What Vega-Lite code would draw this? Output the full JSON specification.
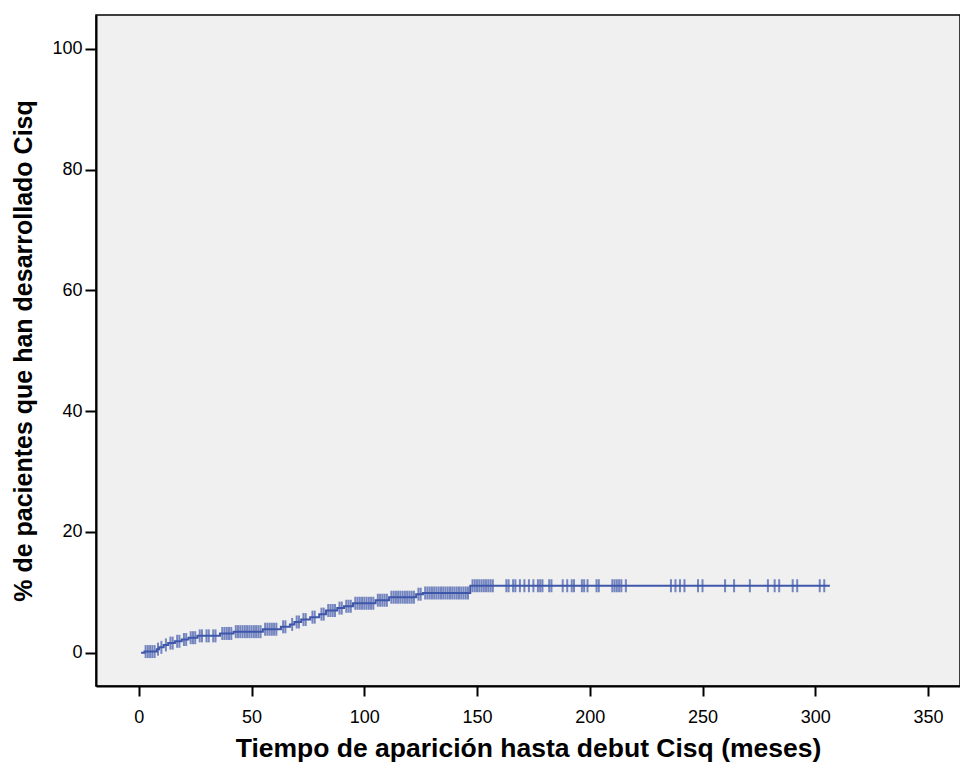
{
  "$schema": "https://vega.github.io/schema/vega-lite/v6.json",
  "width": 864,
  "height": 671,
  "autosize": {"type": "none"},
  "padding": {"left": 96, "top": 15, "right": 0, "bottom": 77},
  "background": "#ffffff",
  "config": {
    "view": {"fill": "#f0f0f0", "stroke": "#000000", "strokeWidth": 1.5},
    "font": "Liberation Sans",
    "axis": {
      "domainColor": "#000000", "domainWidth": 2, "tickColor": "#000000", "tickWidth": 2,
      "labelColor": "#000000", "titleColor": "#000000", "grid": false,
      "labelFont": "Liberation Sans", "titleFont": "Liberation Sans",
      "labelFontSize": 18, "titleFontSize": 26, "titleFontWeight": "bold"
    }
  },
  "data": {"values": [
    {"t": 1, "p": 0, "k": "e"}, {"t": 2.5, "p": 0.2, "k": "e"}, {"t": 3, "p": 0.2, "k": "c"}, {"t": 4, "p": 0.2, "k": "c"}, {"t": 5, "p": 0.2, "k": "c"}, {"t": 6, "p": 0.2, "k": "c"}, {"t": 7, "p": 0.2, "k": "c"},
    {"t": 8, "p": 0.6, "k": "e"}, {"t": 8.5, "p": 0.6, "k": "c"}, {"t": 9, "p": 0.9, "k": "e"}, {"t": 10, "p": 0.9, "k": "c"},
    {"t": 11, "p": 1.3, "k": "e"}, {"t": 12, "p": 1.3, "k": "c"}, {"t": 13, "p": 1.6, "k": "e"}, {"t": 14, "p": 1.6, "k": "c"}, {"t": 15, "p": 1.6, "k": "c"},
    {"t": 16, "p": 1.9, "k": "e"}, {"t": 17, "p": 1.9, "k": "c"}, {"t": 18, "p": 1.9, "k": "c"},
    {"t": 19, "p": 2.2, "k": "e"}, {"t": 20, "p": 2.2, "k": "c"}, {"t": 21, "p": 2.2, "k": "c"},
    {"t": 22, "p": 2.5, "k": "e"}, {"t": 23, "p": 2.5, "k": "c"}, {"t": 24, "p": 2.5, "k": "c"}, {"t": 25, "p": 2.5, "k": "c"},
    {"t": 26, "p": 2.8, "k": "e"}, {"t": 27, "p": 2.8, "k": "c"}, {"t": 28, "p": 2.8, "k": "c"}, {"t": 30, "p": 2.8, "k": "c"}, {"t": 31, "p": 2.8, "k": "c"}, {"t": 33, "p": 2.8, "k": "c"}, {"t": 34, "p": 2.8, "k": "c"},
    {"t": 36, "p": 3.2, "k": "e"}, {"t": 37, "p": 3.2, "k": "c"}, {"t": 38, "p": 3.2, "k": "c"}, {"t": 39, "p": 3.2, "k": "c"}, {"t": 40, "p": 3.2, "k": "c"}, {"t": 41, "p": 3.2, "k": "c"},
    {"t": 42, "p": 3.5, "k": "e"}, {"t": 43, "p": 3.5, "k": "c"}, {"t": 44, "p": 3.5, "k": "c"}, {"t": 45, "p": 3.5, "k": "c"}, {"t": 46, "p": 3.5, "k": "c"}, {"t": 47, "p": 3.5, "k": "c"}, {"t": 48, "p": 3.5, "k": "c"}, {"t": 49, "p": 3.5, "k": "c"}, {"t": 50, "p": 3.5, "k": "c"}, {"t": 51, "p": 3.5, "k": "c"}, {"t": 52, "p": 3.5, "k": "c"}, {"t": 53, "p": 3.5, "k": "c"}, {"t": 54, "p": 3.5, "k": "c"},
    {"t": 55, "p": 3.9, "k": "e"}, {"t": 56, "p": 3.9, "k": "c"}, {"t": 57, "p": 3.9, "k": "c"}, {"t": 58, "p": 3.9, "k": "c"}, {"t": 59, "p": 3.9, "k": "c"}, {"t": 60, "p": 3.9, "k": "c"}, {"t": 61, "p": 3.9, "k": "c"},
    {"t": 63, "p": 4.3, "k": "e"}, {"t": 64, "p": 4.3, "k": "c"}, {"t": 65, "p": 4.3, "k": "c"},
    {"t": 67, "p": 4.7, "k": "e"}, {"t": 68, "p": 4.7, "k": "c"},
    {"t": 69, "p": 5.1, "k": "e"}, {"t": 70, "p": 5.1, "k": "c"}, {"t": 71, "p": 5.1, "k": "c"},
    {"t": 72, "p": 5.5, "k": "e"}, {"t": 73, "p": 5.5, "k": "c"}, {"t": 74, "p": 5.5, "k": "c"},
    {"t": 76, "p": 5.9, "k": "e"}, {"t": 77, "p": 5.9, "k": "c"}, {"t": 78, "p": 5.9, "k": "c"},
    {"t": 80, "p": 6.4, "k": "e"}, {"t": 81, "p": 6.4, "k": "c"}, {"t": 82, "p": 6.4, "k": "c"},
    {"t": 83, "p": 7.0, "k": "e"}, {"t": 84, "p": 7.0, "k": "c"}, {"t": 85, "p": 7.0, "k": "c"}, {"t": 86, "p": 7.0, "k": "c"}, {"t": 87, "p": 7.0, "k": "c"},
    {"t": 88, "p": 7.4, "k": "e"}, {"t": 89, "p": 7.4, "k": "c"}, {"t": 90, "p": 7.4, "k": "c"},
    {"t": 91, "p": 7.7, "k": "e"}, {"t": 92, "p": 7.7, "k": "c"}, {"t": 93, "p": 7.7, "k": "c"}, {"t": 94, "p": 7.7, "k": "c"},
    {"t": 95, "p": 8.2, "k": "e"}, {"t": 96, "p": 8.2, "k": "c"}, {"t": 97, "p": 8.2, "k": "c"}, {"t": 98, "p": 8.2, "k": "c"}, {"t": 99, "p": 8.2, "k": "c"}, {"t": 100, "p": 8.2, "k": "c"}, {"t": 101, "p": 8.2, "k": "c"}, {"t": 102, "p": 8.2, "k": "c"}, {"t": 103, "p": 8.2, "k": "c"}, {"t": 104, "p": 8.2, "k": "c"},
    {"t": 105, "p": 8.7, "k": "e"}, {"t": 106, "p": 8.7, "k": "c"}, {"t": 107, "p": 8.7, "k": "c"}, {"t": 108, "p": 8.7, "k": "c"}, {"t": 109, "p": 8.7, "k": "c"}, {"t": 110, "p": 8.7, "k": "c"},
    {"t": 111, "p": 9.2, "k": "e"}, {"t": 112, "p": 9.2, "k": "c"}, {"t": 113, "p": 9.2, "k": "c"}, {"t": 114, "p": 9.2, "k": "c"}, {"t": 115, "p": 9.2, "k": "c"}, {"t": 116, "p": 9.2, "k": "c"}, {"t": 117, "p": 9.2, "k": "c"}, {"t": 118, "p": 9.2, "k": "c"}, {"t": 119, "p": 9.2, "k": "c"}, {"t": 120, "p": 9.2, "k": "c"}, {"t": 121, "p": 9.2, "k": "c"}, {"t": 122, "p": 9.2, "k": "c"},
    {"t": 123, "p": 9.7, "k": "e"}, {"t": 124, "p": 9.7, "k": "c"}, {"t": 125, "p": 9.7, "k": "c"},
    {"t": 126, "p": 9.9, "k": "e"}, {"t": 127, "p": 9.9, "k": "c"}, {"t": 128, "p": 9.9, "k": "c"}, {"t": 129, "p": 9.9, "k": "c"}, {"t": 130, "p": 9.9, "k": "c"}, {"t": 131, "p": 9.9, "k": "c"}, {"t": 132, "p": 9.9, "k": "c"}, {"t": 133, "p": 9.9, "k": "c"}, {"t": 134, "p": 9.9, "k": "c"}, {"t": 135, "p": 9.9, "k": "c"}, {"t": 136, "p": 9.9, "k": "c"}, {"t": 137, "p": 9.9, "k": "c"}, {"t": 138, "p": 9.9, "k": "c"}, {"t": 139, "p": 9.9, "k": "c"}, {"t": 140, "p": 9.9, "k": "c"}, {"t": 141, "p": 9.9, "k": "c"}, {"t": 142, "p": 9.9, "k": "c"}, {"t": 143, "p": 9.9, "k": "c"}, {"t": 144, "p": 9.9, "k": "c"}, {"t": 145, "p": 9.9, "k": "c"}, {"t": 146, "p": 9.9, "k": "c"},
    {"t": 147, "p": 11.1, "k": "e"}, {"t": 148, "p": 11.1, "k": "c"}, {"t": 149, "p": 11.1, "k": "c"}, {"t": 150, "p": 11.1, "k": "c"}, {"t": 151, "p": 11.1, "k": "c"}, {"t": 152, "p": 11.1, "k": "c"}, {"t": 153, "p": 11.1, "k": "c"}, {"t": 154, "p": 11.1, "k": "c"}, {"t": 155, "p": 11.1, "k": "c"}, {"t": 156, "p": 11.1, "k": "c"}, {"t": 157, "p": 11.1, "k": "c"},
    {"t": 163, "p": 11.1, "k": "c"}, {"t": 164, "p": 11.1, "k": "c"}, {"t": 166, "p": 11.1, "k": "c"}, {"t": 167, "p": 11.1, "k": "c"}, {"t": 169, "p": 11.1, "k": "c"}, {"t": 171, "p": 11.1, "k": "c"}, {"t": 173, "p": 11.1, "k": "c"}, {"t": 175, "p": 11.1, "k": "c"}, {"t": 177, "p": 11.1, "k": "c"}, {"t": 178, "p": 11.1, "k": "c"}, {"t": 179, "p": 11.1, "k": "c"},
    {"t": 182, "p": 11.1, "k": "c"}, {"t": 183, "p": 11.1, "k": "c"}, {"t": 188, "p": 11.1, "k": "c"}, {"t": 190, "p": 11.1, "k": "c"}, {"t": 192, "p": 11.1, "k": "c"}, {"t": 193, "p": 11.1, "k": "c"}, {"t": 196.5, "p": 11.1, "k": "c"}, {"t": 197.5, "p": 11.1, "k": "c"}, {"t": 199, "p": 11.1, "k": "c"},
    {"t": 203, "p": 11.1, "k": "c"}, {"t": 204, "p": 11.1, "k": "c"}, {"t": 210, "p": 11.1, "k": "c"}, {"t": 211, "p": 11.1, "k": "c"}, {"t": 212, "p": 11.1, "k": "c"}, {"t": 213, "p": 11.1, "k": "c"}, {"t": 214, "p": 11.1, "k": "c"}, {"t": 216, "p": 11.1, "k": "c"},
    {"t": 236, "p": 11.1, "k": "c"}, {"t": 238, "p": 11.1, "k": "c"}, {"t": 240, "p": 11.1, "k": "c"}, {"t": 242, "p": 11.1, "k": "c"}, {"t": 248, "p": 11.1, "k": "c"}, {"t": 250, "p": 11.1, "k": "c"},
    {"t": 260, "p": 11.1, "k": "c"}, {"t": 264, "p": 11.1, "k": "c"}, {"t": 271, "p": 11.1, "k": "c"}, {"t": 279, "p": 11.1, "k": "c"}, {"t": 282, "p": 11.1, "k": "c"}, {"t": 284, "p": 11.1, "k": "c"},
    {"t": 290, "p": 11.1, "k": "c"}, {"t": 292, "p": 11.1, "k": "c"}, {"t": 302, "p": 11.1, "k": "c"}, {"t": 304, "p": 11.1, "k": "c"}, {"t": 306.5, "p": 11.1, "k": "e"}
  ]},
  "encoding": {
    "x": {
      "field": "t", "type": "quantitative",
      "scale": {"domain": [-19, 364.2], "nice": false, "zero": false},
      "axis": {"values": [0, 50, 100, 150, 200, 250, 300, 350], "tickSize": 10, "labelPadding": 12,
               "title": "Tiempo de aparición hasta debut Cisq (meses)", "titlePadding": 9, "titleFontSize": 26.5}
    },
    "y": {
      "field": "p", "type": "quantitative",
      "scale": {"domain": [-5.5, 105.6], "nice": false, "zero": false},
      "axis": {"values": [0, 20, 40, 60, 80, 100], "tickSize": 11, "labelPadding": 3,
               "title": "% de pacientes que han desarrollado Cisq", "titlePadding": 15, "titleFontSize": 25}
    }
  },
  "layer": [
    {"mark": {"type": "line", "interpolate": "step-after", "color": "#3f57aa", "strokeWidth": 2}},
    {"transform": [{"filter": "datum.k === 'c'"}],
     "mark": {"type": "tick", "orient": "vertical", "size": 13, "thickness": 2, "color": "#3f57aa"}}
  ]
}
